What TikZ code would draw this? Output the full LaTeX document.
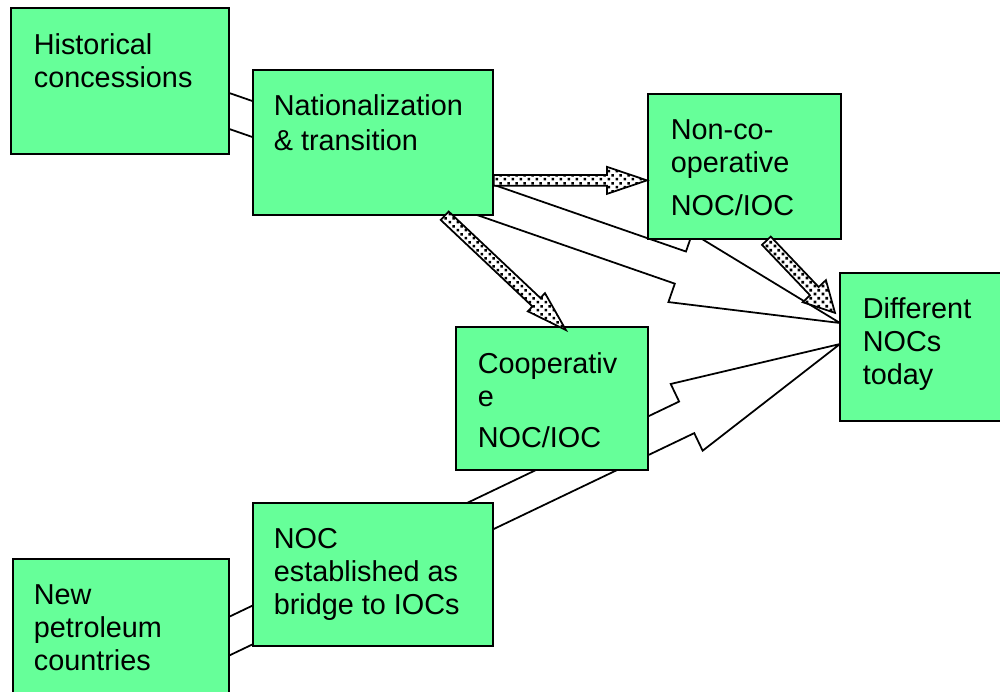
\documentclass[tikz,border=0pt]{standalone}
\usepackage{fontspec}
\setmainfont{Liberation Sans}
\usetikzlibrary{calc}
\usetikzlibrary{patterns}
\definecolor{boxgreen}{RGB}{102,255,153}

\pgfdeclarepatternformonly{coarse dots}{\pgfpointorigin}{\pgfpoint{4.4pt}{4.4pt}}{\pgfpoint{4.4pt}{4.4pt}}{%
  \pgfpathrectangle{\pgfpoint{0.3pt}{0.3pt}}{\pgfpoint{1.6pt}{1.6pt}}%
  \pgfpathrectangle{\pgfpoint{2.5pt}{2.5pt}}{\pgfpoint{1.6pt}{1.6pt}}%
  \pgfusepath{fill}}

\newcommand{\fatarrow}[6]{%
  \coordinate (fa-h) at ($(#3)!#6!(#2)$);
  \draw[#1] ($(#2)!#4!90:(#3)$) -- ($(fa-h)!#4!90:(#3)$) -- ($(fa-h)!#5!90:(#3)$)
    -- (#3) -- ($(fa-h)!#5!-90:(#3)$) -- ($(fa-h)!#4!-90:(#3)$)
    -- ($(#2)!#4!-90:(#3)$) -- cycle;
}

\begin{document}
\begin{tikzpicture}
[x=0.02cm,y=-0.02cm,line width=1pt,%
  box/.style={shape=rectangle,draw,fill=boxgreen,anchor=north west,inner sep=0pt},%
  txt/.style={anchor=base west,align=left,inner sep=0pt,font=\fontsize{16.4}{18.7}\selectfont},%
  hollow/.style={draw,fill=white,line join=miter},%
  dotted arrow/.style={draw,preaction={fill=white},pattern=coarse dots,line join=miter}]
\useasboundingbox (0,0) rectangle (1000,691);

\coordinate (histstart) at (140,80);
\coordinate (newstart) at (150,674);
\coordinate (difftip1) at (840,323);
\coordinate (difftip2) at (840,344);
\fatarrow{hollow}{histstart}{difftip1}{0.34cm}{0.73cm}{3.38cm}
\fatarrow{hollow}{newstart}{difftip2}{0.35cm}{0.74cm}{3.4cm}

\node[box,minimum width=4.36cm,minimum height=2.92cm] (hist) at (10,7) {};
\node[box,minimum width=4.8cm,minimum height=2.9cm] (nat) at (252,69) {};
\node[box,minimum width=3.86cm,minimum height=2.9cm] (nonco) at (647,93) {};
\node[box,minimum width=3.4cm,minimum height=2.96cm] (diff) at (839,272) {};
\node[box,minimum width=3.84cm,minimum height=2.86cm] (coop) at (455,326) {};
\node[box,minimum width=4.8cm,minimum height=2.86cm] (est) at (252,502) {};
\node[box,minimum width=4.32cm,minimum height=3cm] (newp) at (12,558) {};

\coordinate (nattip) at ($(nonco.west)+(0,14)$);
\coordinate (natout) at (nat.east |- nattip);
\coordinate (natdown) at ($(nat.south east)+(-49,0)$);
\coordinate (cooptip) at ($(coop.north)+(14,4)$);
\coordinate (noncoout) at ($(nonco.south)+(22,1)$);
\coordinate (difftip3) at ($(diff.west)+(-4,-34)$);
\fatarrow{dotted arrow}{natout}{nattip}{0.106cm}{0.27cm}{0.8cm}
\fatarrow{dotted arrow}{natdown}{cooptip}{0.116cm}{0.25cm}{0.81cm}
\fatarrow{dotted arrow}{noncoout}{difftip3}{0.12cm}{0.32cm}{0.6cm}

\node[txt] (histtext) at (33,87) {Historical\\concessions};
\node[txt] (nattext) at (273,150) {Nationalization\\[1pt]\& transition};
\node[txt] (noncotext) at (670,215) {Non-co-\\operative\\[5.5pt]NOC/IOC};
\node[txt] (difftext) at (862,384) {Different\\NOCs\\today};
\node[txt] (cooptext) at (477,447) {Cooperativ\\e\\[4.5pt]NOC/IOC};
\node[txt] (esttext) at (273,614) {NOC\\established as\\bridge to IOCs};
\node[txt] (newptext) at (33,670) {New\\petroleum\\countries};
\end{tikzpicture}
\end{document}
